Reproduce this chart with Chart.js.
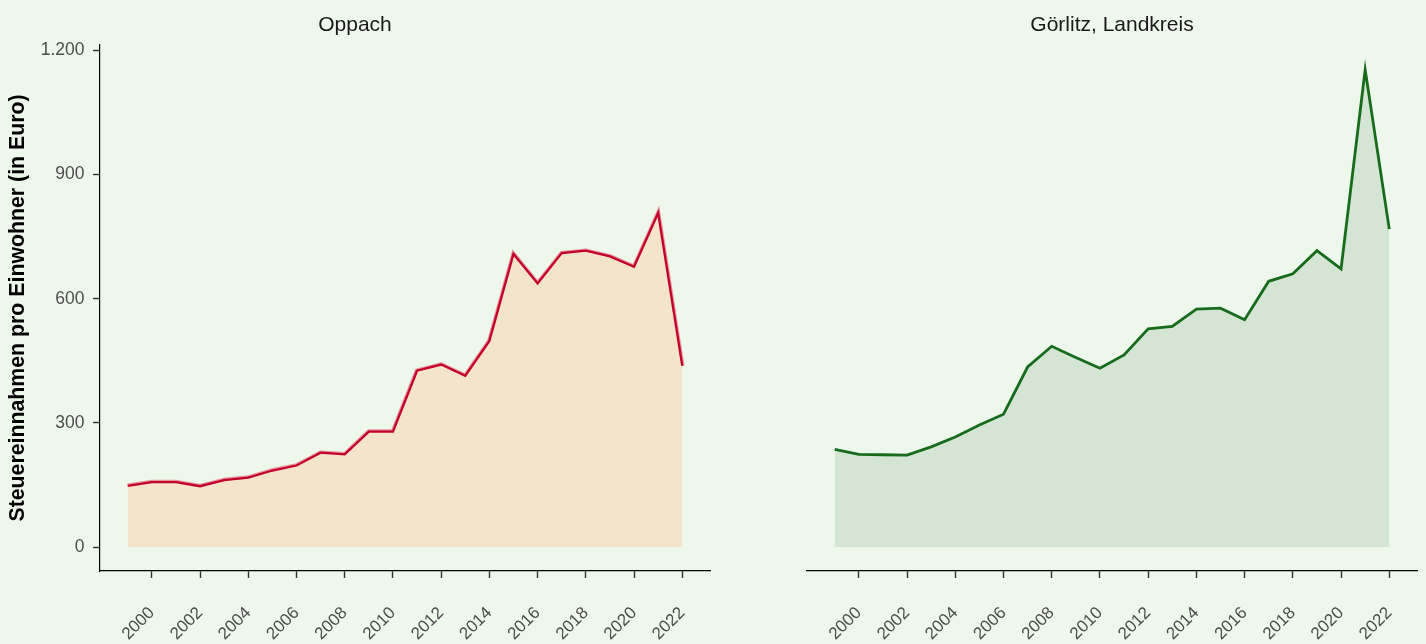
<!DOCTYPE html>
<html>
<head>
<meta charset="utf-8">
<script src="https://cdn.jsdelivr.net/npm/chart.js@4"></script>
<style>
  html, body { margin:0; padding:0; background:#EEF7EC; }
  body { width:1426px; height:644px; position:relative; overflow:hidden; }
  .box { position:absolute; top:0; height:644px; }
  #b1 { left:0; width:810px; }
  #b2 { left:800px; width:624px; }
</style>
</head>
<body>
<div class="box" id="b1"><canvas id="c1"></canvas></div>
<div class="box" id="b2"><canvas id="c2"></canvas></div>
<script>
const years = [1999,2000,2001,2002,2003,2004,2005,2006,2007,2008,2009,2010,2011,2012,2013,2014,2015,2016,2017,2018,2019,2020,2021,2022];
const oppach = [148,157,157,147,162,168,185,197,228,224,279,279,426,441,414,498,708,637,710,716,702,677,807,438];
const goerlitz = [236,224,223,222,242,266,295,321,435,485,458,432,464,527,533,575,577,549,642,660,716,672,1153,768];
const yTicks = [0,300,600,900,1200];
const xTicks = [2000,2002,2004,2006,2008,2010,2012,2014,2016,2018,2020,2022];
const panelTitles = ['Oppach','Görlitz, Landkreis'];
const yTitle = 'Steuereinnahmen pro Einwohner (in Euro)';

const FONT = '"Liberation Sans", Arial, Helvetica, sans-serif';
Chart.defaults.font.family = FONT;

function fmtDE(v){ return String(v).replace(/\B(?=(\d{3})+(?!\d))/g, '.'); }

function makeChart(id, title, values, lineColor, lineWidth, haloColor, fillColor, showY, padLeft, padRight){
  const pts = years.map((y,i)=>({x:y, y:values[i]}));
  const datasets = [];
  datasets.push({
    data: pts, borderColor: lineColor, borderWidth: lineWidth, backgroundColor: fillColor,
    fill: 'origin', pointRadius: 0, tension: 0, order: 1
  });
  if (haloColor) {
    datasets.push({
      data: pts, borderColor: haloColor, borderWidth: 4.5, fill: false,
      pointRadius: 0, tension: 0, order: 2
    });
  }
  return new Chart(document.getElementById(id), {
    type: 'line',
    data: { datasets },
    options: {
      responsive: true, maintainAspectRatio: false, animation: false,
      layout: { padding: { left: padLeft, right: padRight, top: 0, bottom: 0 } },
      plugins: {
        legend: { display: false }, tooltip: { enabled: false },
        title: { display: true, text: title, color: '#1A1A1A',
          font: { size: 21, weight: 'normal', family: FONT }, padding: { top: 12.5, bottom: 7.3 } }
      },
      scales: {
        x: {
          type: 'linear', min: 1997.85, max: 2023.15,
          afterBuildTicks: s => { s.ticks = xTicks.map(v => ({ value: v })); },
          afterFit: s => { s.height = 73; s.paddingLeft = 0; s.paddingRight = 0; },
          ticks: { callback: v => String(v), color: '#4D4D4D', font: { size: 17 },
            maxRotation: 45, minRotation: 45, autoSkip: false, padding: 25 },
          grid: { display: true, drawOnChartArea: false, tickLength: 7, tickColor: '#333333', tickWidth: 1.4 },
          border: { display: true, color: '#000000', width: 1.2 }
        },
        y: {
          display: showY,
          min: -57.75, max: 1212.75,
          afterBuildTicks: s => { s.ticks = yTicks.map(v => ({ value: v })); },
          afterFit: s => { s.width = showY ? 100 : 0; },
          ticks: { callback: v => fmtDE(v), color: '#4D4D4D', font: { size: 17.5 }, padding: 8.5 },
          grid: { display: true, drawOnChartArea: false, tickLength: 7, tickColor: '#333333', tickWidth: 1.4 },
          border: { display: true, color: '#000000', width: 1.2 },
          title: { display: true, text: yTitle, color: '#000000',
            font: { size: 21.3, weight: 'bold', family: FONT }, padding: { top: 5, bottom: 0 } }
        }
      }
    }
  });
}

makeChart('c1', panelTitles[0], oppach, '#C2002A', 2.3, 'rgba(226,110,130,0.75)', '#F5E4CC', true, 0, 100);
makeChart('c2', panelTitles[1], goerlitz, '#186B1C', 2.8, null, '#D4E6D3', false, 7, 7);
</script>
</body>
</html>
